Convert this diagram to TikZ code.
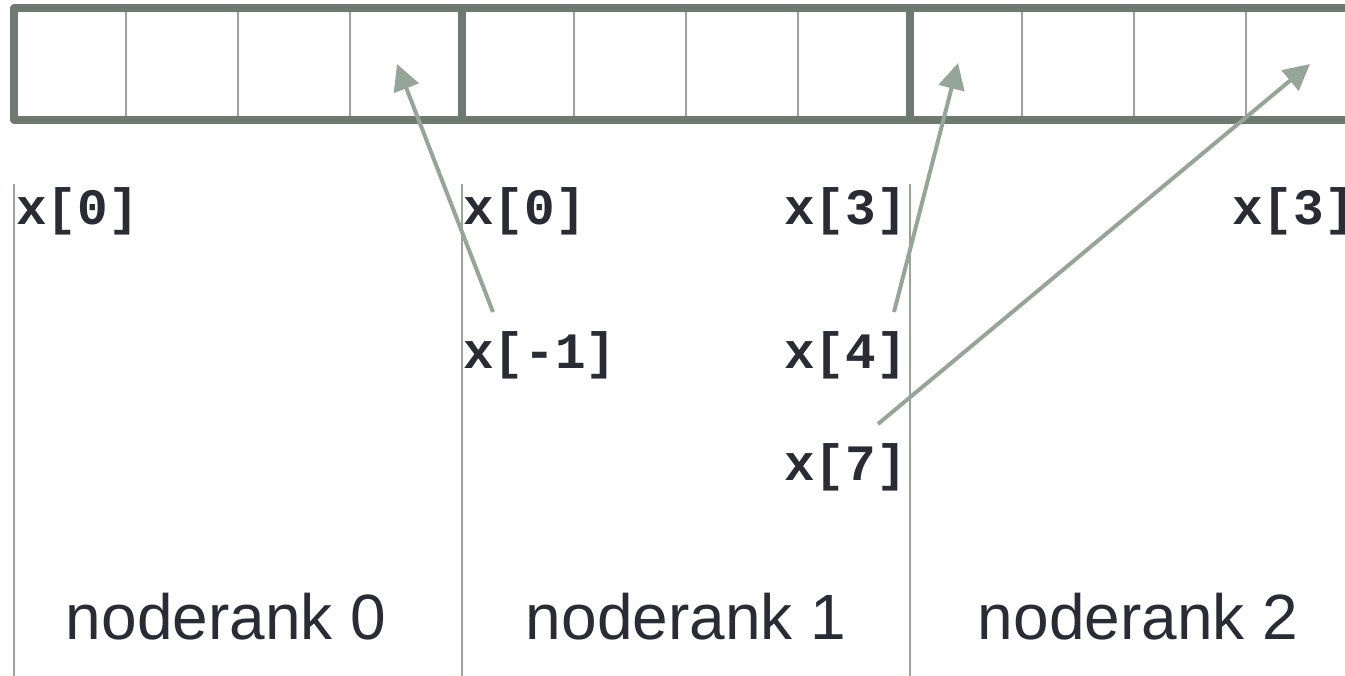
\documentclass[tikz,border=0pt]{standalone}
\usepackage{fontspec}
\setmainfont{Liberation Sans}
\setsansfont{Liberation Sans}
\setmonofont{Liberation Mono}
\usetikzlibrary{arrows.meta, positioning, calc}
\definecolor{framegray}{HTML}{6E7A70}
\definecolor{linegray}{HTML}{95A598}
\definecolor{inkgray}{HTML}{2B2B35}

\begin{document}
\begin{tikzpicture}[
                x = 1pt, y = -1pt,
                cell/.style={draw=linegray, line width=2pt, minimum width=112pt, minimum height=112pt, inner sep=0pt, outer sep=0pt},
                frame/.style={draw=framegray, line width=8pt, line join=round},
                divider/.style={draw=linegray, line width=2pt},
                var/.style={anchor=base west, inner sep=0pt, text=inkgray, font=\fontsize{51}{51}\selectfont\ttfamily\bfseries},
                rank/.style={anchor=base, inner sep=0pt, text=inkgray, font=\fontsize{64}{64}\selectfont\sffamily},
                line/.style={draw=linegray, line width=4pt, -{Triangle[length=26pt, width=26pt]}}
            ]
            \clip (0,0) rectangle (1345,676);
            
            \foreach \i in {0,...,11}
                \node[cell] (cell\i) at ({70+112*\i},64) {};
            \draw[frame] (cell0.north west) rectangle (cell11.south east);
            \draw[frame] (cell3.north east) -- (cell3.south east);
            \draw[frame] (cell7.north east) -- (cell7.south east);
            
            \foreach \x in {14,462,910}
                \draw[divider] (\x,184) -- (\x,676);
            
            \node[var] (x0a) at (16,225) {x[0]};
            \node[var] (x0b) at (463,225) {x[0]};
            \node[var] (x3b) at (784,225) {x[3]};
            \node[var] (xm1) at (463,369) {x[-1]};
            \node[var] (x4) at (784,369) {x[4]};
            \node[var] (x7) at (784,480) {x[7]};
            \node[var] (x3c) at (1232,225) {x[3]};
            
            \node[rank] (R0) at (226,639) {noderank 0};
            \node[rank] (R1) at (686,639) {noderank 1};
            \node[rank] (R2) at (1138,639) {noderank 2};
            
            \coordinate (S1) at (493,312);
            \coordinate (S2) at (894,312);
            \coordinate (S3) at (878,424);
            \coordinate (T1) at ($(cell3.center)+(-9,0)$);
            \coordinate (T2) at ($(cell8.center)+(-8,-1)$);
            \coordinate (T3) at ($(cell11.center)+(8,0)$);
            \draw[line] (S1) -- (T1);
            \draw[line] (S2) -- (T2);
            \draw[line] (S3) -- (T3);
        \end{tikzpicture}
\end{document}
